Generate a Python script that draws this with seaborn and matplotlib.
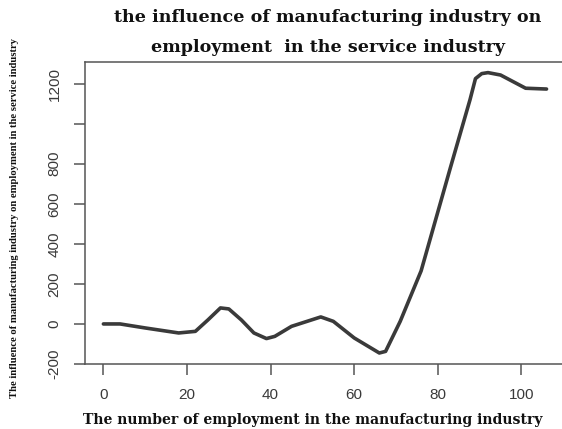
import matplotlib
matplotlib.use("Agg")
import matplotlib.pyplot as plt
import seaborn as sns
import pandas as pd

# Manufacturing employment (x) and its estimated effect on service-industry employment (y)
manufacturing = [0, 4, 10, 18, 22, 25, 28, 30, 33, 36, 39, 41, 45, 52, 55, 60,
                 66, 67.5, 71, 76, 83, 87.7, 89, 90.5, 92, 95, 98, 101, 106]
influence = [0, 0, -20, -45, -37, 20, 80, 75, 20, -45, -73, -62, -12, 35, 13, -70,
             -145, -137, 13, 265, 780, 1120, 1225, 1250, 1255, 1243, 1210, 1177, 1173]

x_ticks = [0, 20, 40, 60, 80, 100]
y_ticks = [-200, 0, 200, 400, 600, 800, 1000, 1200]
y_tick_labels = ["-200", "0", "200", "400", "600", "800", "", "1200"]

title_lines = ["the influence of manufacturing industry on",
               "employment  in the service industry"]
x_label = "The number of employment in the manufacturing industry"
y_label = "The influence of manufacturing industry on employment in the service industry"

sns.set_theme(style="white")
plt.rcParams["font.family"] = ["Liberation Sans", "DejaVu Sans"]

W, H = 562, 429
fig = plt.figure(figsize=(W / 100, H / 100), dpi=100)
left, right, top, bottom = 85, 562, 62, 364
ax = fig.add_axes([left / W, (H - bottom) / H, (right - left) / W, (bottom - top) / H])

df = pd.DataFrame({"x": manufacturing, "y": influence})
sns.lineplot(data=df, x="x", y="y", ax=ax, color="#3a3a3a", linewidth=2.6,
             sort=False, estimator=None)

ax.set_xlim(-4.4, 109.7)
ax.set_ylim(-198, 1308)
ax.set_xticks(x_ticks)
ax.set_xticklabels([str(t) for t in x_ticks])
ax.set_yticks(y_ticks)
ax.set_yticklabels(y_tick_labels, rotation=90, va="center")

edge = "#555555"
for side in ["left", "bottom", "top"]:
    ax.spines[side].set_visible(True)
    ax.spines[side].set_color(edge)
    ax.spines[side].set_linewidth(1.1)
ax.spines["right"].set_visible(False)

ax.tick_params(axis="both", direction="out", length=8, width=1.1, color=edge,
               labelsize=11, labelcolor="#3a3a3a", bottom=True, left=True)
ax.tick_params(axis="x", pad=9)
ax.tick_params(axis="y", pad=9)
ax.set_xlabel("")
ax.set_ylabel("")

for line, ypix in zip(title_lines, [18, 48]):
    fig.text(328 / W, 1 - ypix / H, line, ha="center", va="center",
             family="DejaVu Serif", fontweight="bold", fontsize=12.6,
             color="#111111")
fig.text(313 / W, 1 - 420 / H, x_label, ha="center", va="center",
         family="DejaVu Serif", fontweight="bold", fontsize=10.1,
         color="#111111")
fig.text(15 / W, 1 - 218 / H, y_label, ha="center", va="center", rotation=90,
         family="Liberation Serif", fontweight="bold", fontsize=7.7,
         color="#111111")

fig.savefig("out.png", dpi=100, facecolor="white")
